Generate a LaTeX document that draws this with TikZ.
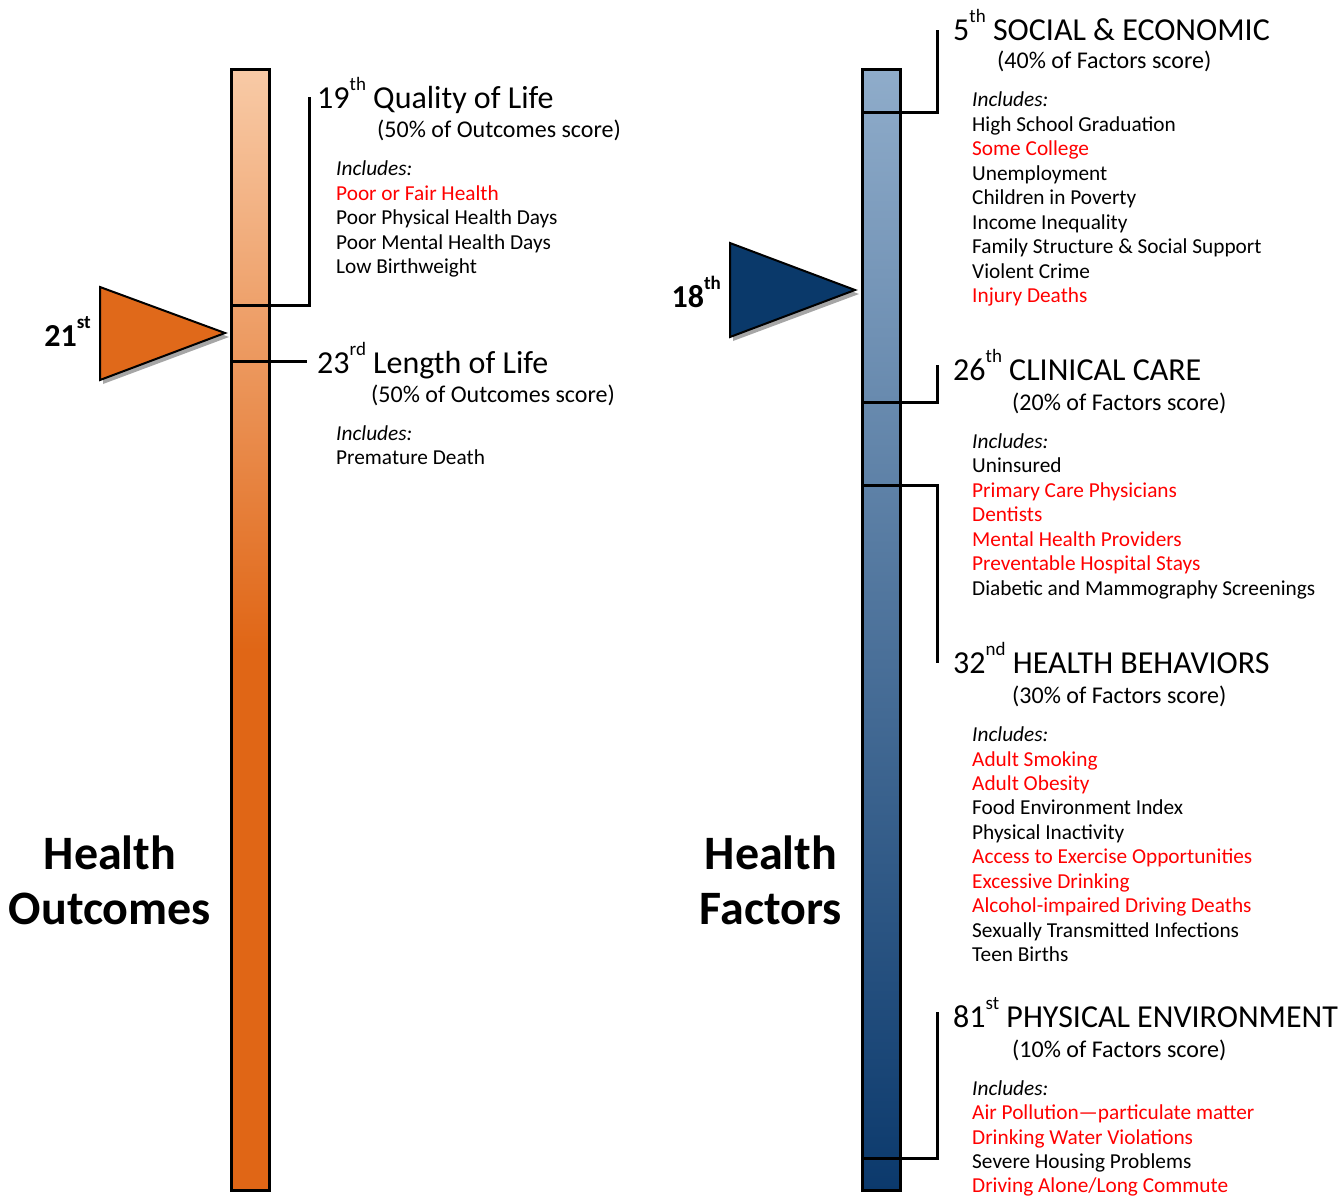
\documentclass[tikz,border=0pt]{standalone}
\usepackage{fontspec}
\setmainfont{Carlito}
\definecolor{orangetop}{HTML}{F8CAA6}
\definecolor{orangebot}{HTML}{E06616}
\definecolor{bluetop}{HTML}{8FACCA}
\definecolor{bluebot}{HTML}{0B396C}
\definecolor{tricol}{HTML}{E0691A}
\definecolor{navy}{HTML}{0A396A}
\definecolor{itemred}{HTML}{FF0000}
\newcommand{\supx}[1]{\raisebox{0.55em}{\fontsize{19}{19}\selectfont #1}}
\begin{document}
\begin{tikzpicture}[x=1pt,y=-1pt,
  bar/.style={draw=black,line width=3pt},
  bracket/.style={draw=black,line width=3pt,line cap=rect},
  heading/.style={anchor=base west,inner sep=0pt,font=\fontsize{32}{38}\selectfont},
  sub/.style={anchor=base west,inner sep=0pt,font=\fontsize{24}{29}\selectfont},
  item/.style={anchor=base west,inner sep=0pt,font=\fontsize{21.3}{24.5}\selectfont},
  incl/.style={item,font=\fontsize{21.3}{24.5}\selectfont\itshape},
  red/.style={text=itemred},
  big/.style={anchor=center,inner sep=0pt,align=center,font=\fontsize{48}{55}\selectfont\bfseries},
  rank/.style={anchor=base east,inner sep=0pt,font=\fontsize{32}{38}\selectfont\bfseries},
  tri/.style={draw=black,line width=2pt,line join=miter}
]
\useasboundingbox (0,0) rectangle (1342,1195);
\fill[white] (0,0) rectangle (1342,1195);

% ---------- left bar ----------
\shade[top color=orangetop,bottom color=orangebot] (231,69) rectangle (269,650);
\fill[orangebot] (231,649) rectangle (269,1190);
\draw[bar] (231,69) rectangle (269,1190);
% triangle
\fill[gray!70] (103,291) -- (103,384) -- (229,337) -- cycle;
\fill[tricol] (100,287) -- (100,380) -- (225,333) -- cycle;
\draw[tri] (100,287) -- (100,380) -- (225,333) -- cycle;
\node[rank] (r21) at (91,346) {21\supx{st}};

% brackets
\coordinate (ql0) at (231,305);
\coordinate (ql1) at (309,305);
\coordinate (ql2) at (309,98);
\draw[bracket] (ql0) -- (ql1) -- (ql2);
\coordinate (ll0) at (231,361);
\coordinate (ll1) at (305,361);
\draw[bracket] (ll0) -- (ll1);

\node[heading] (qlh) at (317,108) {19\supx{th} Quality of Life};
\node[sub] (qls) at (377,137) {(50\% of Outcomes score)};
\node[incl] (qli) at (336,175) {Includes:};
\node[item,red] (q1) at (336,200) {Poor or Fair Health};
\node[item] (q2) at (336,224) {Poor Physical Health Days};
\node[item] (q3) at (336,249) {Poor Mental Health Days};
\node[item] (q4) at (336,273) {Low Birthweight};

\node[heading] (llh) at (317,373) {23\supx{rd} Length of Life};
\node[sub] (lls) at (371,402) {(50\% of Outcomes score)};
\node[incl] (lli) at (336,440) {Includes:};
\node[item] (l1) at (336,464) {Premature Death};

\node[big] (ho) at (110,880) {Health\\Outcomes};

% ---------- right bar ----------
\shade[top color=bluetop,bottom color=bluebot] (862,69) rectangle (900,1190);
\draw[bar] (862,69) rectangle (900,1190);
\fill[gray!70] (733,247) -- (733,341) -- (859,294) -- cycle;
\fill[navy] (730,243) -- (730,337) -- (855,290) -- cycle;
\draw[tri] (730,243) -- (730,337) -- (855,290) -- cycle;
\node[rank] (r18) at (721,307) {18\supx{th}};

\coordinate (se0) at (862,112);
\coordinate (se1) at (937,112);
\coordinate (se2) at (937,31);
\draw[bracket] (se0) -- (se1) -- (se2);
\coordinate (cc0) at (862,402);
\coordinate (cc1) at (937,402);
\coordinate (cc2) at (937,366);
\draw[bracket] (cc0) -- (cc1) -- (cc2);
\coordinate (hb0) at (862,485);
\coordinate (hb1) at (937,485);
\coordinate (hb2) at (937,661);
\draw[bracket] (hb0) -- (hb1) -- (hb2);
\coordinate (pe0) at (862,1158);
\coordinate (pe1) at (937,1158);
\coordinate (pe2) at (937,1013);
\draw[bracket] (pe0) -- (pe1) -- (pe2);

% Social & economic
\node[heading] (seh) at (953,40) {5\supx{th} SOCIAL \& ECONOMIC};
\node[sub] (ses) at (997,68) {(40\% of Factors score)};
\node[incl] (sei) at (972,106) {Includes:};
\node[item] (s1) at (972,131) {High School Graduation};
\node[item,red] (s2) at (972,155) {Some College};
\node[item] (s3) at (972,180) {Unemployment};
\node[item] (s4) at (972,204) {Children in Poverty};
\node[item] (s5) at (972,229) {Income Inequality};
\node[item] (s6) at (972,253) {Family Structure \& Social Support};
\node[item] (s7) at (972,278) {Violent Crime};
\node[item,red] (s8) at (972,302) {Injury Deaths};

% Clinical care
\node[heading] (cch) at (953,380) {26\supx{th} CLINICAL CARE};
\node[sub] (ccs) at (1012,410) {(20\% of Factors score)};
\node[incl] (cci) at (972,448) {Includes:};
\node[item] (c1) at (972,472) {Uninsured};
\node[item,red] (c2) at (972,497) {Primary Care Physicians};
\node[item,red] (c3) at (972,521) {Dentists};
\node[item,red] (c4) at (972,546) {Mental Health Providers};
\node[item,red] (c5) at (972,570) {Preventable Hospital Stays};
\node[item] (c6) at (972,595) {Diabetic and Mammography Screenings};

% Health behaviors
\node[heading] (hbh) at (953,673) {32\supx{nd} HEALTH BEHAVIORS};
\node[sub] (hbs) at (1012,703) {(30\% of Factors score)};
\node[incl] (hbi) at (972,741) {Includes:};
\node[item,red] (b1) at (972,766) {Adult Smoking};
\node[item,red] (b2) at (972,790) {Adult Obesity};
\node[item] (b3) at (972,814) {Food Environment Index};
\node[item] (b4) at (972,839) {Physical Inactivity};
\node[item,red] (b5) at (972,863) {Access to Exercise Opportunities};
\node[item,red] (b6) at (972,888) {Excessive Drinking};
\node[item,red] (b7) at (972,912) {Alcohol-impaired Driving Deaths};
\node[item] (b8) at (972,937) {Sexually Transmitted Infections};
\node[item] (b9) at (972,961) {Teen Births};

% Physical environment
\node[heading] (peh) at (953,1027) {81\supx{st} PHYSICAL ENVIRONMENT};
\node[sub] (pes) at (1012,1057) {(10\% of Factors score)};
\node[incl] (pei) at (972,1095) {Includes:};
\node[item,red] (p1) at (972,1119) {Air Pollution—particulate matter};
\node[item,red] (p2) at (972,1144) {Drinking Water Violations};
\node[item] (p3) at (972,1168) {Severe Housing Problems};
\node[item,red] (p4) at (972,1192) {Driving Alone/Long Commute};

\node[big] (hf) at (771,880) {Health\\Factors};
\end{tikzpicture}
\end{document}
